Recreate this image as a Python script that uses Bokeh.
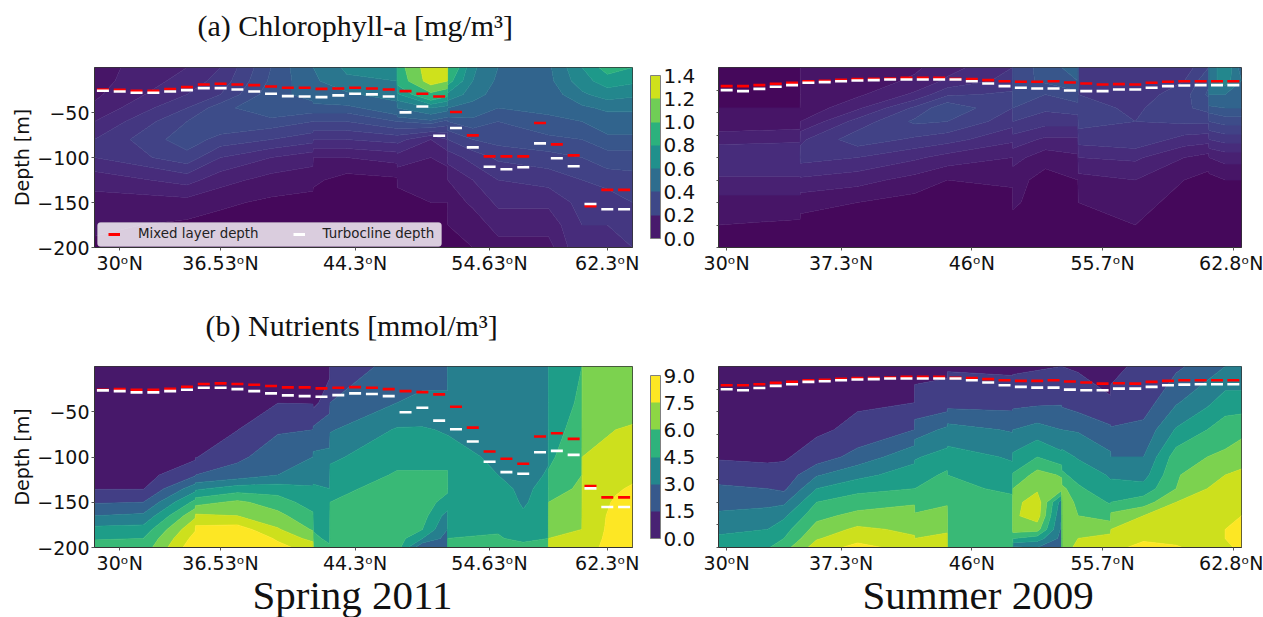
from bokeh.plotting import figure
from bokeh.layouts import column, row
from bokeh.core.properties import value
from bokeh.models import (Range1d, FixedTicker, ColorBar, LinearColorMapper, Legend, LegendItem, BoxAnnotation)
from bokeh.palettes import Viridis256
from bokeh.embed import file_html
from bokeh.resources import INLINE
import numpy as np

SPRING_TICKS = {1: "30ᵒN", 7: "36.53ᵒN", 15: "44.3ᵒN", 23: "54.63ᵒN", 30: "62.3ᵒN"}
SUMMER_TICKS = {0: "30ᵒN", 7: "37.3ᵒN", 15: "46ᵒN", 23: "55.7ᵒN", 31: "62.8ᵒN"}
STATIONS = list(range(32))

MLD_SPRING_A = [24.4,24.8,25.9,25.9,24,21.8,18.9,18.1,18.9,19.6,21.1,22.5,22.5,23.7,23.3,22.5,23.3,24.4,26.2,29.2,32.2,49.5,75.4,98.7,98.7,98.7,61.7,85.4,97.6,154,136,136]
TKE_SPRING_A = [25.9,26.6,28.1,28.1,26.6,25.1,22.9,22.9,24.4,26.6,29.2,31.8,32.2,32.9,31,29.2,29.9,32.2,49.9,43.3,75.8,67.3,88.7,110.2,113.1,110.9,84.3,100.9,109.8,151.6,157.5,157.5]
MLD_SPRING_C = [25.7,25,25.7,25.7,24.6,22.4,19.4,18.7,19.4,20.2,21.6,23.1,23.1,24.2,23.5,22.8,23.5,25,27.2,28.3,30.8,44.4,67.5,93.9,102,107.5,77.4,73.8,80,132,144.6,144.6]
TKE_SPRING_C = [26.4,27.2,28.6,28.6,27.2,25.7,23.5,23.5,25,27.2,29.7,31.9,32.7,33.4,31.6,29.7,30.4,32.7,50.6,45.5,59.8,69.4,82.9,105.3,116.7,118.5,94.7,93.2,97.6,134.7,155.2,155.2]
MLD_SUMMER = [20.7,20.7,19.6,18.1,17,15.2,14.8,13.7,12.9,12.6,12.2,11.5,11.5,11.5,12.6,12.9,14,15.2,15.9,15.9,15.2,16.6,17.7,18.9,18.5,18.9,17,15.9,15.2,15.2,15.2,15.2]
TKE_SUMMER = [25.1,26.2,23.7,21.4,19.6,17,16.3,15.2,14.4,14,13.3,13.3,13.3,13.3,13.3,15.2,17.7,20.7,22.5,23.3,23.3,25.5,26.2,26.2,24.4,24.4,22.5,20.7,20,19.6,19.6,19.6]

DEPTH_CHL = [0,15,30,45,60,80,100,125,150,175,200]
DEPTH_NUT = [0,40,70,100,120,135,150,165,180,190,200]

X_A = [-0.5,5,7,10,12.49,12.51,14.5,17.49,17.51,19.5,20.49,20.51,22,23.5,26.5,28.5,30,31.5]
Z_A = [
 [.08,.08,.09,.11,.15,.2,.2,.12,.08,.06,.04],
 [.15,.17,.2,.25,.3,.33,.28,.17,.08,.04,.03],
 [.2,.22,.25,.33,.35,.28,.2,.12,.06,.03,.02],
 [.35,.36,.38,.4,.33,.25,.15,.08,.04,.02,.02],
 [.46,.44,.42,.38,.3,.22,.12,.07,.03,.02,.02],
 [.5,.48,.44,.38,.3,.2,.1,.06,.03,.02,.02],
 [.62,.58,.48,.38,.3,.2,.1,.03,.02,.02,.02],
 [.62,.6,.55,.45,.35,.22,.12,.04,.02,.02,.02],
 [.9,.85,.68,.5,.35,.22,.13,.06,.03,.02,.02],
 [1.33,1.3,.95,.6,.38,.15,.1,.07,.05,.04,.03],
 [1.25,1.2,.85,.55,.33,.2,.12,.07,.05,.04,.03],
 [.95,.85,.68,.5,.35,.25,.17,.1,.07,.05,.04],
 [.62,.6,.55,.45,.38,.3,.22,.15,.11,.07,.05],
 [.5,.48,.45,.4,.35,.32,.26,.2,.16,.12,.08],
 [.48,.47,.44,.42,.38,.34,.28,.22,.16,.12,.08],
 [.7,.66,.58,.48,.4,.35,.3,.25,.22,.2,.2],
 [.85,.75,.65,.52,.45,.38,.33,.27,.22,.2,.18],
 [.8,.72,.62,.52,.45,.38,.33,.28,.25,.23,.2],
]

X_B = [-0.5,4.49,4.51,8,11.5,13.5,17.49,17.51,19.5,21.49,21.51,25,28,29.49,29.51,30.5,31.5]
Z_B = [
 [.05,.05,.05,.05,.06,.13,.2,.14,.08,.05,.03],
 [.04,.04,.04,.05,.07,.14,.2,.14,.08,.04,.02],
 [.05,.05,.05,.06,.1,.19,.22,.14,.07,.03,.02],
 [.06,.07,.09,.14,.22,.28,.2,.12,.05,.02,.02],
 [.09,.11,.16,.26,.31,.24,.16,.08,.03,.02,.02],
 [.13,.16,.24,.34,.3,.22,.13,.05,.02,.02,.02],
 [.2,.22,.26,.25,.22,.16,.1,.06,.03,.02,.02],
 [.3,.33,.33,.3,.25,.18,.12,.07,.06,.03,.02],
 [.38,.36,.3,.26,.22,.14,.07,.03,.02,.02,.02],
 [.42,.4,.33,.28,.22,.14,.09,.05,.04,.03,.02],
 [.25,.25,.25,.27,.27,.22,.15,.08,.05,.04,.02],
 [.2,.21,.22,.24,.25,.24,.16,.1,.07,.05,.02],
 [.22,.25,.28,.29,.26,.18,.1,.05,.03,.02,.02],
 [.3,.34,.36,.32,.26,.17,.08,.03,.02,.02,.02],
 [.5,.55,.5,.38,.3,.2,.1,.03,.02,.02,.02],
 [.7,.65,.5,.4,.32,.22,.12,.05,.03,.02,.02],
 [.45,.5,.48,.4,.32,.22,.12,.05,.03,.02,.02],
]

X_C = [-0.5,2.4,5.49,5.51,8,10.4,12.49,12.51,13.49,13.51,17.5,19,20.49,20.51,23.5,25,26.49,26.51,28.49,28.51,30.5,31.5]
Z_C = [
 [.3,.35,.4,.45,.55,.95,1.9,3.0,4.3,4.9,5.5],
 [.35,.4,.45,.5,.6,.95,2.0,3.2,4.4,5.0,5.4],
 [.4,.5,.6,.8,1.9,3.6,5.3,6.8,7.9,8.4,8.8],
 [.8,.85,.9,.95,2.0,3.8,5.6,7.2,8.3,8.6,8.9],
 [.9,.95,.98,1.8,2.4,4.5,6.2,7.0,8.5,8.7,8.9],
 [.9,.98,1.9,2.5,3,4.5,5.5,6.3,7.1,7.9,8.2],
 [.8,.95,2,3,3.6,4.1,4.5,5.2,5.9,6.6,7.7],
 [.5,.7,2.2,3.2,3.8,4.1,4.3,4.5,4.9,5.3,6],
 [.7,1.6,2.6,3.2,3.7,4,4.3,4.5,4.5,4.7,5.2],
 [1.6,2,2.9,3.8,4.3,4.7,5,5.3,5.5,5.7,5.9],
 [2.2,3,4.1,4.7,5.1,5.4,5.5,5.5,5.5,5.5,5.5],
 [2.6,3.2,4.1,4.7,5.1,5.3,5.5,5.4,5,4,2],
 [2.6,3.2,3.9,4.4,5.2,5.2,4.6,3.6,3.0,2.6,2.3],
 [3.3,3.5,3.9,4.4,4.7,4.9,4.6,4.4,4.6,5,5.2],
 [3.4,3.5,3.6,3.8,4,4.3,4.5,4.7,4.9,5.1,5.3],
 [3.3,3.3,3.4,3.5,3.6,3.8,3.9,4.1,4.4,4.7,5.4],
 [3.5,3.6,3.7,3.9,4.1,4.3,4.4,4.5,4.7,5,5.6],
 [4,4.3,4.5,4.8,5.1,5.5,6,6.5,6.8,7,7.2],
 [5,5.2,5.5,5.8,6,6.2,6.6,6.8,7,7.2,7.3],
 [6.4,6.6,6.8,7,7.1,7.3,7.4,7.5,7.6,7.7,7.8],
 [6.6,6.8,7,7.3,7.6,7.9,8.1,8.2,8.2,8.2,8.2],
 [6.3,6.6,7.1,7.5,7.8,8.1,8.2,8.3,8.3,8.3,8.3],
]

X_D = [-0.5,2.5,3.5,5.5,8,11.49,11.51,13.49,13.51,17.49,17.51,19,20.49,20.51,21.5,23.49,23.51,25.5,27.5,29.4,30.5,31.5]
Z_D = [
 [.3,.35,.4,.9,1.5,2.2,2.8,3.1,3.7,4.2,4.5],
 [.3,.35,.4,.8,1.4,2,2.8,3.3,4,4.5,4.9],
 [.3,.4,.5,.9,1.3,1.8,2.8,3.8,4.6,5,5.6],
 [.7,.8,.85,1.4,2.9,4,5,5.7,6.4,6.9,7.5],
 [.8,.9,1.2,2.4,3.7,4.7,5.5,6.3,7.2,7.7,8.3],
 [.7,1,2,3.7,4.5,5,5.9,6.4,6.8,7.1,7.6],
 [.8,1.2,2.5,3.9,4.5,5,5.6,6.1,6.6,7,7.4],
 [.8,1.4,3.2,4.4,5.2,5.6,5.9,6.3,6.8,7.3,7.7],
 [.9,1.6,3.4,4.4,5,5.4,5.8,5.9,5.9,5.9,5.9],
 [.8,1.6,2.9,3.9,4.3,4.7,5.4,5.7,5.7,5.8,5.8],
 [.8,1.7,3,4.2,5.1,6,6.6,6.8,6.5,5,2.8],
 [.9,1.8,3.4,5,6.4,6.8,7.6,7.5,6.4,4.5,3],
 [1,1.9,3,4.3,5.9,6.4,3.5,3,2.8,2.7,2.6],
 [1,1.8,3,4.4,5.2,6.3,6.8,6.3,6,6,6],
 [.9,1.5,2.9,3.9,4.6,5.2,5.7,6,6.6,7,7.5],
 [.6,1.1,2.2,3.2,3.9,4.2,4.9,5.6,6.6,7.4,7.7],
 [.8,1.2,2.1,3,3.8,4.5,5,6.3,7,7.5,7.8],
 [1.2,1.5,2.3,3,3.6,4.4,5.5,7,7.7,7.9,8.2],
 [1.8,2.9,4.1,5.5,5.9,6,7,7.5,7.7,7.7,8.1],
 [2.5,3.8,5,6,6.6,7,7.5,7.7,7.8,7.6,7.6],
 [3,4.5,5.5,6.2,7,7.6,7.9,8,8,8,7.9],
 [3,4.5,5.7,6.6,7.2,7.6,7.9,8,8.1,8.1,8.1],
]

LEVELS_CHL = [0,.05,.1,.15,.2,.25,.3,.35,.4,.5,.6,.7,.8,1.0,1.2,1.4]
LEVELS_NUT = [0,1,2,3,4,5,6,7,8,9]
BAR_CHL = [0,.2,.4,.6,.8,1.0,1.2,1.4]
BAR_NUT = [0,1.5,3,4.5,6,7.5,9]
SPAN_CHL = 1.4
SPAN_NUT = 8.1

FONT = "DejaVu Sans"
SERIF = "Liberation Serif"
TICK = "19px"


def colours(levels, span):
    out = []
    for a, b in zip(levels[:-1], levels[1:]):
        t = min(1.0, 0.5 * (a + b) / span)
        out.append(Viridis256[int(round(t * 255))])
    return out


def panel(xs, depths, z, levels, span, ticks, mld, tke, labelled, left, right, top, bottom, fh, fw):
    p = figure(frame_width=fw, frame_height=fh, x_range=Range1d(-0.5, 31.5), y_range=Range1d(-200, 0),
               output_backend="svg", toolbar_location=None,
               min_border_left=left, min_border_right=right, min_border_top=top, min_border_bottom=bottom)
    p.grid.visible = False
    y = -np.array(depths[::-1], dtype=float)
    zz = np.array(z, dtype=float).T[::-1, :]
    cols = colours(levels, span)
    p.contour(np.array(xs, dtype=float), y, zz, levels, fill_color=cols, line_color=cols + [cols[-1]], line_width=0.8)
    p.xaxis.ticker = FixedTicker(ticks=list(ticks))
    p.xaxis.major_label_overrides = ticks
    p.xaxis.major_label_text_font = FONT
    p.xaxis.major_label_text_font_size = TICK
    p.xaxis.major_label_text_color = "#111111"
    p.xaxis.major_label_standoff = 1
    p.xaxis.major_tick_in = 0
    p.xaxis.major_tick_out = 3
    p.xaxis.minor_tick_line_color = None
    p.yaxis.minor_tick_line_color = None
    p.yaxis.major_tick_in = 0
    p.yaxis.major_tick_out = 3
    for ax in (p.xaxis[0], p.yaxis[0]):
        ax.axis_line_color = "#333333"
        ax.major_tick_line_color = "#555555"
    if labelled:
        tk = [-200, -150, -100, -50]
        p.yaxis.ticker = FixedTicker(ticks=tk)
        p.yaxis.major_label_overrides = {v: "−" + str(-v) for v in tk}
        p.yaxis.major_label_text_font = FONT
        p.yaxis.major_label_text_font_size = TICK
        p.yaxis.major_label_text_color = "#111111"
        p.yaxis.major_label_standoff = 2
        p.yaxis.axis_label = "Depth [m]"
        p.yaxis.axis_label_text_font = FONT
        p.yaxis.axis_label_text_font_style = "normal"
        p.yaxis.axis_label_text_font_size = "19px"
        p.yaxis.axis_label_text_color = "#111111"
        p.yaxis.axis_label_standoff = 1
    else:
        tk = list(range(-200, 0, 25))
        p.yaxis.ticker = FixedTicker(ticks=tk)
        p.yaxis.major_label_overrides = {v: "" for v in tk}
        p.yaxis.major_tick_out = 2
    p.outline_line_color = "#333333"
    p.outline_line_width = 1
    p.scatter(STATIONS, [-v for v in mld], marker="dash", size=12, line_color="#ff0000", line_width=2.6)
    p.scatter(STATIONS, [-v for v in tke], marker="dash", size=12, line_color="#ffffff", line_width=2.6)
    return p


def add_bar(p, ticks, span, offset):
    pal = colours(ticks, span)
    mapper = LinearColorMapper(palette=pal, low=ticks[0], high=ticks[-1])
    cb = ColorBar(color_mapper=mapper, ticker=FixedTicker(ticks=ticks),
                  major_label_overrides={v: f"{v:.1f}" for v in ticks},
                  major_label_text_font=FONT, major_label_text_font_size="20px",
                  major_label_text_color="#111111", major_tick_line_color=None,
                  bar_line_color="#808080", width=10, height=163, label_standoff=3,
                  location=(556, offset), padding=0, margin=0,
                  background_fill_color=None, border_line_color=None)
    p.add_layout(cb)


def strip(height, xs, ys, texts, sizes):
    s = figure(width=1263, height=height, x_range=Range1d(0, 1263), y_range=Range1d(0, height),
               output_backend="svg", toolbar_location=None, min_border=0)
    s.axis.visible = False
    s.grid.visible = False
    s.outline_line_color = None
    for x, y, t, z in zip(xs, ys, texts, sizes):
        s.text([x], [y], text=[t], text_font=value(SERIF), text_font_size=value(z), text_color="#111111",
               text_baseline="alphabetic", text_align="left")
    return s


A = panel(X_A, DEPTH_CHL, Z_A, LEVELS_CHL, SPAN_CHL, SPRING_TICKS, MLD_SPRING_A, TKE_SPRING_A,
          True, 94, 68, 1, 53, 180, 538)
B = panel(X_B, DEPTH_CHL, Z_B, LEVELS_CHL, SPAN_CHL, SUMMER_TICKS, MLD_SUMMER, TKE_SUMMER,
          False, 18, 22, 1, 53, 180, 523)
C = panel(X_C, DEPTH_NUT, Z_C, LEVELS_NUT, SPAN_NUT, SPRING_TICKS, MLD_SPRING_C, TKE_SPRING_C,
          True, 94, 68, 1, 23, 181, 538)
D = panel(X_D, DEPTH_NUT, Z_D, LEVELS_NUT, SPAN_NUT, SUMMER_TICKS, MLD_SUMMER, TKE_SUMMER,
          False, 18, 22, 1, 23, 181, 523)

add_bar(A, BAR_CHL, SPAN_CHL, 9)
add_bar(C, BAR_NUT, SPAN_NUT, 9)

A.add_layout(BoxAnnotation(left=-0.32, right=20.14, top=-172.2, bottom=-198.9, fill_color="#ffffff", fill_alpha=0.8,
                           line_color="#cccccc", line_width=1, border_radius=3))
line_red = A.line([-5, -4], [-300, -300], line_color="#ff0000", line_width=3)
line_white = A.line([-5, -4], [-300, -300], line_color="#ffffff", line_width=3)
legend = Legend(items=[LegendItem(label="Mixed layer depth", renderers=[line_red]),
                       LegendItem(label="Turbocline depth", renderers=[line_white])],
                orientation="horizontal", location=(14, 6), label_text_font=FONT, label_text_font_size="13.4px",
                label_text_color="#222222", glyph_width=12, glyph_height=14, label_standoff=18, spacing=34,
                padding=5, margin=0, background_fill_color=None, background_fill_alpha=0,
                border_line_color=None, label_height=14)
A.add_layout(legend)

top_strip = strip(66, [197], [41], ["(a) Chlorophyll-a [mg/m³]"], ["30px"])
mid_strip = strip(65, [205], [40], ["(b) Nutrients [mmol/m³]"], ["30px"])
low_strip = strip(47, [252, 862], [29, 29], ["Spring 2011", "Summer 2009"], ["41px", "41px"])

page = column(top_strip, row(A, B, spacing=0), mid_strip, row(C, D, spacing=0), low_strip, spacing=0)
open("out.html", "w").write(file_html(page, INLINE))
